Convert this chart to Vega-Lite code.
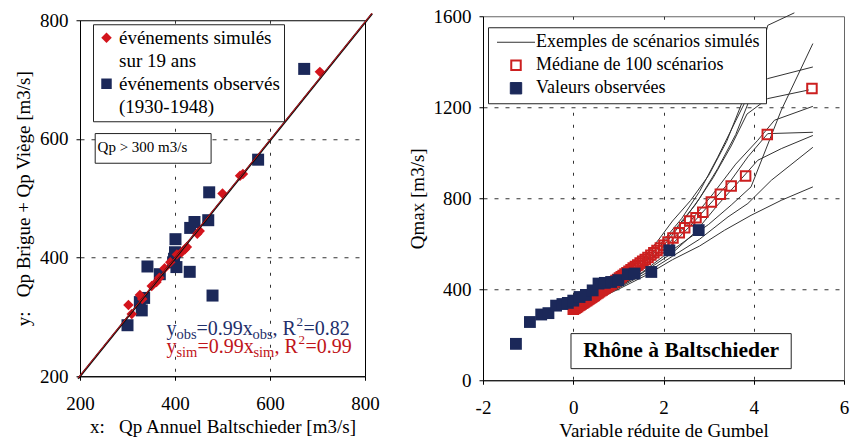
{
  "$schema": "https://vega.github.io/schema/vega-lite/v6.json",
  "background": "white",
  "padding": {"left": 14, "top": 6, "right": 0, "bottom": 0},
  "spacing": 27,
  "center": true,
  "datasets": {
    "leftpts": [
      {"type": "événements observés", "x": 300, "y": 286},
      {"type": "événements observés", "x": 326, "y": 325},
      {"type": "événements observés", "x": 330, "y": 311},
      {"type": "événements observés", "x": 335, "y": 332},
      {"type": "événements observés", "x": 342, "y": 385},
      {"type": "événements observés", "x": 368, "y": 372},
      {"type": "événements observés", "x": 396, "y": 392},
      {"type": "événements observés", "x": 398, "y": 398},
      {"type": "événements observés", "x": 400, "y": 409},
      {"type": "événements observés", "x": 401, "y": 431},
      {"type": "événements observés", "x": 403, "y": 384},
      {"type": "événements observés", "x": 431, "y": 376},
      {"type": "événements observés", "x": 432, "y": 450},
      {"type": "événements observés", "x": 441, "y": 460},
      {"type": "événements observés", "x": 470, "y": 463},
      {"type": "événements observés", "x": 472, "y": 510},
      {"type": "événements observés", "x": 479, "y": 336},
      {"type": "événements observés", "x": 575, "y": 565},
      {"type": "événements observés", "x": 672, "y": 718},
      {"type": "événements simulés", "x": 302, "y": 320},
      {"type": "événements simulés", "x": 309, "y": 305},
      {"type": "événements simulés", "x": 326, "y": 337},
      {"type": "événements simulés", "x": 331, "y": 330},
      {"type": "événements simulés", "x": 351, "y": 352},
      {"type": "événements simulés", "x": 361, "y": 359},
      {"type": "événements simulés", "x": 367, "y": 366},
      {"type": "événements simulés", "x": 378, "y": 382},
      {"type": "événements simulés", "x": 390, "y": 392},
      {"type": "événements simulés", "x": 404, "y": 405},
      {"type": "événements simulés", "x": 414, "y": 409},
      {"type": "événements simulés", "x": 421, "y": 414},
      {"type": "événements simulés", "x": 425, "y": 418},
      {"type": "événements simulés", "x": 447, "y": 440},
      {"type": "événements simulés", "x": 452, "y": 445},
      {"type": "événements simulés", "x": 500, "y": 508},
      {"type": "événements simulés", "x": 537, "y": 538},
      {"type": "événements simulés", "x": 543, "y": 541},
      {"type": "événements simulés", "x": 705, "y": 713}
    ],
    "leftlines": [
      {"s": "obs", "x": 196, "y": 196},
      {"s": "obs", "x": 815, "y": 811},
      {"s": "sim", "x": 196, "y": 197},
      {"s": "sim", "x": 815, "y": 812}
    ],
    "right": [
      {"series": "Valeurs observées", "x": -1.27, "y": 160},
      {"series": "Valeurs observées", "x": -0.96, "y": 256},
      {"series": "Valeurs observées", "x": -0.71, "y": 289},
      {"series": "Valeurs observées", "x": -0.55, "y": 295},
      {"series": "Valeurs observées", "x": -0.38, "y": 328},
      {"series": "Valeurs observées", "x": -0.24, "y": 335},
      {"series": "Valeurs observées", "x": -0.12, "y": 340},
      {"series": "Valeurs observées", "x": 0.0, "y": 350},
      {"series": "Valeurs observées", "x": 0.14, "y": 366},
      {"series": "Valeurs observées", "x": 0.28, "y": 375},
      {"series": "Valeurs observées", "x": 0.43, "y": 395},
      {"series": "Valeurs observées", "x": 0.56, "y": 425},
      {"series": "Valeurs observées", "x": 0.70, "y": 428},
      {"series": "Valeurs observées", "x": 0.84, "y": 432},
      {"series": "Valeurs observées", "x": 1.00, "y": 440},
      {"series": "Valeurs observées", "x": 1.21, "y": 466},
      {"series": "Valeurs observées", "x": 1.36, "y": 469},
      {"series": "Valeurs observées", "x": 1.73, "y": 476},
      {"series": "Valeurs observées", "x": 2.13, "y": 571},
      {"series": "Valeurs observées", "x": 2.78, "y": 660},
      {"series": "Médiane de 100 scénarios", "x": 0.000, "y": 312},
      {"series": "Médiane de 100 scénarios", "x": 0.024, "y": 315},
      {"series": "Médiane de 100 scénarios", "x": 0.048, "y": 318},
      {"series": "Médiane de 100 scénarios", "x": 0.072, "y": 321},
      {"series": "Médiane de 100 scénarios", "x": 0.097, "y": 324},
      {"series": "Médiane de 100 scénarios", "x": 0.122, "y": 328},
      {"series": "Médiane de 100 scénarios", "x": 0.147, "y": 331},
      {"series": "Médiane de 100 scénarios", "x": 0.172, "y": 334},
      {"series": "Médiane de 100 scénarios", "x": 0.198, "y": 338},
      {"series": "Médiane de 100 scénarios", "x": 0.224, "y": 341},
      {"series": "Médiane de 100 scénarios", "x": 0.250, "y": 344},
      {"series": "Médiane de 100 scénarios", "x": 0.276, "y": 348},
      {"series": "Médiane de 100 scénarios", "x": 0.302, "y": 351},
      {"series": "Médiane de 100 scénarios", "x": 0.329, "y": 355},
      {"series": "Médiane de 100 scénarios", "x": 0.356, "y": 358},
      {"series": "Médiane de 100 scénarios", "x": 0.383, "y": 362},
      {"series": "Médiane de 100 scénarios", "x": 0.410, "y": 365},
      {"series": "Médiane de 100 scénarios", "x": 0.438, "y": 369},
      {"series": "Médiane de 100 scénarios", "x": 0.466, "y": 373},
      {"series": "Médiane de 100 scénarios", "x": 0.494, "y": 377},
      {"series": "Médiane de 100 scénarios", "x": 0.523, "y": 381},
      {"series": "Médiane de 100 scénarios", "x": 0.552, "y": 385},
      {"series": "Médiane de 100 scénarios", "x": 0.582, "y": 389},
      {"series": "Médiane de 100 scénarios", "x": 0.612, "y": 393},
      {"series": "Médiane de 100 scénarios", "x": 0.643, "y": 397},
      {"series": "Médiane de 100 scénarios", "x": 0.674, "y": 401},
      {"series": "Médiane de 100 scénarios", "x": 0.706, "y": 405},
      {"series": "Médiane de 100 scénarios", "x": 0.738, "y": 410},
      {"series": "Médiane de 100 scénarios", "x": 0.771, "y": 414},
      {"series": "Médiane de 100 scénarios", "x": 0.805, "y": 419},
      {"series": "Médiane de 100 scénarios", "x": 0.839, "y": 423},
      {"series": "Médiane de 100 scénarios", "x": 0.874, "y": 428},
      {"series": "Médiane de 100 scénarios", "x": 0.910, "y": 433},
      {"series": "Médiane de 100 scénarios", "x": 0.947, "y": 438},
      {"series": "Médiane de 100 scénarios", "x": 0.985, "y": 443},
      {"series": "Médiane de 100 scénarios", "x": 1.024, "y": 449},
      {"series": "Médiane de 100 scénarios", "x": 1.064, "y": 455},
      {"series": "Médiane de 100 scénarios", "x": 1.105, "y": 461},
      {"series": "Médiane de 100 scénarios", "x": 1.147, "y": 467},
      {"series": "Médiane de 100 scénarios", "x": 1.190, "y": 473},
      {"series": "Médiane de 100 scénarios", "x": 1.235, "y": 479},
      {"series": "Médiane de 100 scénarios", "x": 1.281, "y": 486},
      {"series": "Médiane de 100 scénarios", "x": 1.329, "y": 493},
      {"series": "Médiane de 100 scénarios", "x": 1.378, "y": 500},
      {"series": "Médiane de 100 scénarios", "x": 1.430, "y": 507},
      {"series": "Médiane de 100 scénarios", "x": 1.483, "y": 515},
      {"series": "Médiane de 100 scénarios", "x": 1.538, "y": 523},
      {"series": "Médiane de 100 scénarios", "x": 1.596, "y": 531},
      {"series": "Médiane de 100 scénarios", "x": 1.656, "y": 540},
      {"series": "Médiane de 100 scénarios", "x": 1.720, "y": 550},
      {"series": "Médiane de 100 scénarios", "x": 1.786, "y": 560},
      {"series": "Médiane de 100 scénarios", "x": 1.856, "y": 570},
      {"series": "Médiane de 100 scénarios", "x": 1.930, "y": 581},
      {"series": "Médiane de 100 scénarios", "x": 2.010, "y": 593},
      {"series": "Médiane de 100 scénarios", "x": 2.100, "y": 608},
      {"series": "Médiane de 100 scénarios", "x": 2.21, "y": 625},
      {"series": "Médiane de 100 scénarios", "x": 2.35, "y": 648},
      {"series": "Médiane de 100 scénarios", "x": 2.47, "y": 670},
      {"series": "Médiane de 100 scénarios", "x": 2.58, "y": 700},
      {"series": "Médiane de 100 scénarios", "x": 2.72, "y": 714},
      {"series": "Médiane de 100 scénarios", "x": 2.87, "y": 738},
      {"series": "Médiane de 100 scénarios", "x": 3.06, "y": 783},
      {"series": "Médiane de 100 scénarios", "x": 3.26, "y": 818},
      {"series": "Médiane de 100 scénarios", "x": 3.50, "y": 854},
      {"series": "Médiane de 100 scénarios", "x": 3.82, "y": 898},
      {"series": "Médiane de 100 scénarios", "x": 4.30, "y": 1080},
      {"series": "Médiane de 100 scénarios", "x": 5.29, "y": 1282}
    ],
    "scen": [
      {"series": "Exemples de scénarios simulés", "s": 1, "x": 0.2, "y": 330},
      {"series": "Exemples de scénarios simulés", "s": 1, "x": 1.0, "y": 415},
      {"series": "Exemples de scénarios simulés", "s": 1, "x": 1.6, "y": 505},
      {"series": "Exemples de scénarios simulés", "s": 1, "x": 2.0, "y": 590},
      {"series": "Exemples de scénarios simulés", "s": 1, "x": 2.4, "y": 690},
      {"series": "Exemples de scénarios simulés", "s": 1, "x": 2.8, "y": 800},
      {"series": "Exemples de scénarios simulés", "s": 1, "x": 3.2, "y": 930},
      {"series": "Exemples de scénarios simulés", "s": 1, "x": 3.6, "y": 1080},
      {"series": "Exemples de scénarios simulés", "s": 1, "x": 3.9, "y": 1230},
      {"series": "Exemples de scénarios simulés", "s": 1, "x": 4.31, "y": 1560},
      {"series": "Exemples de scénarios simulés", "s": 1, "x": 4.9, "y": 1615},
      {"series": "Exemples de scénarios simulés", "s": 2, "x": 0.2, "y": 328},
      {"series": "Exemples de scénarios simulés", "s": 2, "x": 1.0, "y": 410},
      {"series": "Exemples de scénarios simulés", "s": 2, "x": 1.5, "y": 470},
      {"series": "Exemples de scénarios simulés", "s": 2, "x": 2.0, "y": 545},
      {"series": "Exemples de scénarios simulés", "s": 2, "x": 2.5, "y": 615},
      {"series": "Exemples de scénarios simulés", "s": 2, "x": 3.0, "y": 685},
      {"series": "Exemples de scénarios simulés", "s": 2, "x": 3.5, "y": 770},
      {"series": "Exemples de scénarios simulés", "s": 2, "x": 3.94, "y": 850},
      {"series": "Exemples de scénarios simulés", "s": 2, "x": 4.61, "y": 1187},
      {"series": "Exemples de scénarios simulés", "s": 2, "x": 5.31, "y": 1480},
      {"series": "Exemples de scénarios simulés", "s": 3, "x": 0.2, "y": 332},
      {"series": "Exemples de scénarios simulés", "s": 3, "x": 1.0, "y": 425},
      {"series": "Exemples de scénarios simulés", "s": 3, "x": 1.6, "y": 525},
      {"series": "Exemples de scénarios simulés", "s": 3, "x": 2.0, "y": 615},
      {"series": "Exemples de scénarios simulés", "s": 3, "x": 2.4, "y": 710},
      {"series": "Exemples de scénarios simulés", "s": 3, "x": 2.8, "y": 830},
      {"series": "Exemples de scénarios simulés", "s": 3, "x": 3.2, "y": 980},
      {"series": "Exemples de scénarios simulés", "s": 3, "x": 3.6, "y": 1140},
      {"series": "Exemples de scénarios simulés", "s": 3, "x": 3.85, "y": 1240},
      {"series": "Exemples de scénarios simulés", "s": 3, "x": 4.31, "y": 1326},
      {"series": "Exemples de scénarios simulés", "s": 3, "x": 5.31, "y": 1377},
      {"series": "Exemples de scénarios simulés", "s": 4, "x": 0.2, "y": 330},
      {"series": "Exemples de scénarios simulés", "s": 4, "x": 1.0, "y": 420},
      {"series": "Exemples de scénarios simulés", "s": 4, "x": 1.7, "y": 540},
      {"series": "Exemples de scénarios simulés", "s": 4, "x": 2.2, "y": 650},
      {"series": "Exemples de scénarios simulés", "s": 4, "x": 2.7, "y": 770},
      {"series": "Exemples de scénarios simulés", "s": 4, "x": 3.1, "y": 890},
      {"series": "Exemples de scénarios simulés", "s": 4, "x": 3.5, "y": 1030},
      {"series": "Exemples de scénarios simulés", "s": 4, "x": 3.85, "y": 1170},
      {"series": "Exemples de scénarios simulés", "s": 4, "x": 4.31, "y": 1238},
      {"series": "Exemples de scénarios simulés", "s": 4, "x": 5.22, "y": 1276},
      {"series": "Exemples de scénarios simulés", "s": 5, "x": 0.2, "y": 330},
      {"series": "Exemples de scénarios simulés", "s": 5, "x": 1.0, "y": 418},
      {"series": "Exemples de scénarios simulés", "s": 5, "x": 1.6, "y": 505},
      {"series": "Exemples de scénarios simulés", "s": 5, "x": 2.1, "y": 600},
      {"series": "Exemples de scénarios simulés", "s": 5, "x": 2.6, "y": 700},
      {"series": "Exemples de scénarios simulés", "s": 5, "x": 3.1, "y": 820},
      {"series": "Exemples de scénarios simulés", "s": 5, "x": 3.6, "y": 950},
      {"series": "Exemples de scénarios simulés", "s": 5, "x": 4.09, "y": 1055},
      {"series": "Exemples de scénarios simulés", "s": 5, "x": 4.46, "y": 1143},
      {"series": "Exemples de scénarios simulés", "s": 5, "x": 5.31, "y": 1204},
      {"series": "Exemples de scénarios simulés", "s": 6, "x": 0.2, "y": 328},
      {"series": "Exemples de scénarios simulés", "s": 6, "x": 1.0, "y": 412},
      {"series": "Exemples de scénarios simulés", "s": 6, "x": 1.6, "y": 495},
      {"series": "Exemples de scénarios simulés", "s": 6, "x": 2.1, "y": 580},
      {"series": "Exemples de scénarios simulés", "s": 6, "x": 2.6, "y": 680},
      {"series": "Exemples de scénarios simulés", "s": 6, "x": 3.1, "y": 790},
      {"series": "Exemples de scénarios simulés", "s": 6, "x": 3.5, "y": 880},
      {"series": "Exemples de scénarios simulés", "s": 6, "x": 3.87, "y": 982},
      {"series": "Exemples de scénarios simulés", "s": 6, "x": 4.31, "y": 1084},
      {"series": "Exemples de scénarios simulés", "s": 6, "x": 5.31, "y": 1090},
      {"series": "Exemples de scénarios simulés", "s": 7, "x": 0.2, "y": 326},
      {"series": "Exemples de scénarios simulés", "s": 7, "x": 1.0, "y": 408},
      {"series": "Exemples de scénarios simulés", "s": 7, "x": 1.6, "y": 480},
      {"series": "Exemples de scénarios simulés", "s": 7, "x": 2.2, "y": 560},
      {"series": "Exemples de scénarios simulés", "s": 7, "x": 2.7, "y": 650},
      {"series": "Exemples de scénarios simulés", "s": 7, "x": 3.2, "y": 770},
      {"series": "Exemples de scénarios simulés", "s": 7, "x": 3.7, "y": 880},
      {"series": "Exemples de scénarios simulés", "s": 7, "x": 4.09, "y": 967},
      {"series": "Exemples de scénarios simulés", "s": 7, "x": 4.61, "y": 1018},
      {"series": "Exemples de scénarios simulés", "s": 7, "x": 5.31, "y": 1076},
      {"series": "Exemples de scénarios simulés", "s": 8, "x": 0.2, "y": 326},
      {"series": "Exemples de scénarios simulés", "s": 8, "x": 1.0, "y": 405},
      {"series": "Exemples de scénarios simulés", "s": 8, "x": 1.6, "y": 470},
      {"series": "Exemples de scénarios simulés", "s": 8, "x": 2.2, "y": 545},
      {"series": "Exemples de scénarios simulés", "s": 8, "x": 2.8, "y": 620},
      {"series": "Exemples de scénarios simulés", "s": 8, "x": 3.43, "y": 718},
      {"series": "Exemples de scénarios simulés", "s": 8, "x": 3.87, "y": 777},
      {"series": "Exemples de scénarios simulés", "s": 8, "x": 4.39, "y": 879},
      {"series": "Exemples de scénarios simulés", "s": 8, "x": 5.31, "y": 1024},
      {"series": "Exemples de scénarios simulés", "s": 9, "x": 0.2, "y": 324},
      {"series": "Exemples de scénarios simulés", "s": 9, "x": 1.0, "y": 400},
      {"series": "Exemples de scénarios simulés", "s": 9, "x": 1.6, "y": 460},
      {"series": "Exemples de scénarios simulés", "s": 9, "x": 2.2, "y": 530},
      {"series": "Exemples de scénarios simulés", "s": 9, "x": 2.8, "y": 590},
      {"series": "Exemples de scénarios simulés", "s": 9, "x": 3.35, "y": 659},
      {"series": "Exemples de scénarios simulés", "s": 9, "x": 3.94, "y": 725},
      {"series": "Exemples de scénarios simulés", "s": 9, "x": 4.61, "y": 791},
      {"series": "Exemples de scénarios simulés", "s": 9, "x": 5.31, "y": 850},
      {"series": "Exemples de scénarios simulés", "s": 10, "x": 0.2, "y": 332},
      {"series": "Exemples de scénarios simulés", "s": 10, "x": 1.0, "y": 430},
      {"series": "Exemples de scénarios simulés", "s": 10, "x": 1.5, "y": 520},
      {"series": "Exemples de scénarios simulés", "s": 10, "x": 1.9, "y": 620},
      {"series": "Exemples de scénarios simulés", "s": 10, "x": 2.2, "y": 700},
      {"series": "Exemples de scénarios simulés", "s": 10, "x": 2.6, "y": 790},
      {"series": "Exemples de scénarios simulés", "s": 10, "x": 3.0, "y": 900},
      {"series": "Exemples de scénarios simulés", "s": 10, "x": 3.4, "y": 1050},
      {"series": "Exemples de scénarios simulés", "s": 10, "x": 3.7, "y": 1200},
      {"series": "Exemples de scénarios simulés", "s": 10, "x": 3.9, "y": 1300}
    ]
  },
  "config": {
    "font": "Liberation Serif",
    "axis": {
      "domainColor": "black",
      "domainWidth": 1,
      "tickColor": "black",
      "tickSize": 4,
      "labelFont": "Liberation Serif",
      "labelFontSize": 19,
      "labelColor": "black",
      "titleFont": "Liberation Serif",
      "titleFontSize": 19,
      "titleFontWeight": "normal",
      "titleColor": "black",
      "grid": true,
      "gridColor": "#333333",
      "gridWidth": 1
    },
    "axisX": {"labelPadding": 14, "titlePadding": 4, "gridDash": [3, 9], "labelFlush": false},
    "axisY": {"labelPadding": 8, "titlePadding": 6, "gridDash": [4, 7]},
    "legend": {
      "labelFont": "Liberation Serif",
      "labelColor": "black",
      "fillColor": "white",
      "strokeColor": "#222222",
      "labelLimit": 400,
      "title": null
    }
  },
  "resolve": {"scale": {"color": "independent", "shape": "independent"}, "legend": {"color": "independent", "shape": "independent"}},
  "hconcat": [
    {
      "width": 285,
      "height": 356,
      "view": {"stroke": "black", "strokeWidth": 1},
      "layer": [
        {
          "data": {"name": "leftpts"},
          "transform": [{"filter": "datum.type === 'événements observés'"}],
          "mark": {"type": "point", "shape": "square", "filled": true, "size": 144, "opacity": 1},
          "encoding": {
            "x": {"field": "x", "type": "quantitative", "scale": {"domain": [200, 800], "nice": false, "zero": false},
              "axis": {"values": [200, 400, 600, 800], "title": "x:\u00a0\u00a0\u00a0Qp Annuel Baltschieder [m3/s]",
                "gridOpacity": {"condition": {"test": "datum.value == 200 || datum.value == 800", "value": 0}, "value": 1}}},
            "y": {"field": "y", "type": "quantitative", "scale": {"domain": [200, 800], "nice": false, "zero": false},
              "axis": {"values": [200, 400, 600, 800], "title": "y:\u00a0\u00a0\u00a0Qp Brigue + Qp Viège [m3/s]",
                "gridOpacity": {"condition": {"test": "datum.value == 200 || datum.value == 800", "value": 0}, "value": 1}}},
            "color": {"field": "type", "type": "nominal",
              "scale": {"domain": ["événements simulés", "sur 19 ans", "événements observés", "(1930-1948)"], "range": ["#d3141c", "#ffffff", "#1b2859", "#ffffff"]},
              "legend": {
                "orient": "none", "legendX": 13, "legendY": 4,
                "labelFontSize": 19, "labelOffset": 3,
                "padding": 4, "rowPadding": 3, "symbolSize": 110,
                "encode": {"symbols": {"update": {
                  "opacity": {"signal": "datum.value === 'sur 19 ans' || datum.value === '(1930-1948)' ? 0 : 1"},
                  "strokeWidth": {"value": 0}}}}
              }},
            "shape": {"field": "type", "type": "nominal",
              "scale": {"domain": ["événements simulés", "sur 19 ans", "événements observés", "(1930-1948)"], "range": ["diamond", "square", "square", "square"]}}
          }
        },
        {
          "data": {"name": "leftpts"},
          "transform": [{"filter": "datum.type === 'événements simulés'"}],
          "mark": {"type": "point", "filled": true, "size": 110, "opacity": 1},
          "encoding": {
            "x": {"field": "x", "type": "quantitative"},
            "y": {"field": "y", "type": "quantitative"},
            "color": {"field": "type", "type": "nominal"},
            "shape": {"field": "type", "type": "nominal"}
          }
        },
        {
          "data": {"name": "leftlines"},
          "transform": [{"filter": "datum.s === 'obs'"}],
          "mark": {"type": "line", "color": "#111111", "strokeWidth": 2},
          "encoding": {"x": {"field": "x", "type": "quantitative"}, "y": {"field": "y", "type": "quantitative"}}
        },
        {
          "data": {"name": "leftlines"},
          "transform": [{"filter": "datum.s === 'sim'"}],
          "mark": {"type": "line", "color": "#d3141c", "strokeWidth": 1},
          "encoding": {"x": {"field": "x", "type": "quantitative"}, "y": {"field": "y", "type": "quantitative"}}
        },
        {
          "data": {"values": [{}]},
          "mark": {"type": "rect", "fill": "white", "stroke": "#222222", "strokeWidth": 1},
          "encoding": {"x": {"datum": 232}, "x2": {"datum": 476}, "y": {"datum": 609}, "y2": {"datum": 559}}
        },
        {
          "data": {"values": [{}]},
          "mark": {"type": "text", "text": "Qp > 300 m3/s", "font": "Liberation Serif", "fontSize": 15, "align": "left", "baseline": "alphabetic", "color": "black"},
          "encoding": {"x": {"datum": 237}, "y": {"datum": 578}}
        },
        {"data": {"values": [{}]}, "mark": {"type": "text", "text": "y", "font": "Liberation Serif", "fontSize": 20, "align": "left", "baseline": "alphabetic", "color": "#1f2f6b", "dx": 0}, "encoding": {"x": {"datum": 382}, "y": {"datum": 269}}},
        {"data": {"values": [{}]}, "mark": {"type": "text", "text": "obs", "font": "Liberation Serif", "fontSize": 14.5, "align": "left", "baseline": "alphabetic", "color": "#1f2f6b", "dx": 10, "dy": 4}, "encoding": {"x": {"datum": 382}, "y": {"datum": 269}}},
        {"data": {"values": [{}]}, "mark": {"type": "text", "text": "=0.99x", "font": "Liberation Serif", "fontSize": 20, "align": "left", "baseline": "alphabetic", "color": "#1f2f6b", "dx": 30}, "encoding": {"x": {"datum": 382}, "y": {"datum": 269}}},
        {"data": {"values": [{}]}, "mark": {"type": "text", "text": "obs", "font": "Liberation Serif", "fontSize": 14.5, "align": "left", "baseline": "alphabetic", "color": "#1f2f6b", "dx": 86, "dy": 4}, "encoding": {"x": {"datum": 382}, "y": {"datum": 269}}},
        {"data": {"values": [{}]}, "mark": {"type": "text", "text": ", R", "font": "Liberation Serif", "fontSize": 20, "align": "left", "baseline": "alphabetic", "color": "#1f2f6b", "dx": 106}, "encoding": {"x": {"datum": 382}, "y": {"datum": 269}}},
        {"data": {"values": [{}]}, "mark": {"type": "text", "text": "2", "font": "Liberation Serif", "fontSize": 13, "align": "left", "baseline": "alphabetic", "color": "#1f2f6b", "dx": 130, "dy": -9}, "encoding": {"x": {"datum": 382}, "y": {"datum": 269}}},
        {"data": {"values": [{}]}, "mark": {"type": "text", "text": "=0.82", "font": "Liberation Serif", "fontSize": 20, "align": "left", "baseline": "alphabetic", "color": "#1f2f6b", "dx": 137}, "encoding": {"x": {"datum": 382}, "y": {"datum": 269}}},
        {"data": {"values": [{}]}, "mark": {"type": "text", "text": "y", "font": "Liberation Serif", "fontSize": 20, "align": "left", "baseline": "alphabetic", "color": "#c0141a", "dx": 0}, "encoding": {"x": {"datum": 382}, "y": {"datum": 239}}},
        {"data": {"values": [{}]}, "mark": {"type": "text", "text": "sim", "font": "Liberation Serif", "fontSize": 14.5, "align": "left", "baseline": "alphabetic", "color": "#c0141a", "dx": 10, "dy": 4}, "encoding": {"x": {"datum": 382}, "y": {"datum": 239}}},
        {"data": {"values": [{}]}, "mark": {"type": "text", "text": "=0.99x", "font": "Liberation Serif", "fontSize": 20, "align": "left", "baseline": "alphabetic", "color": "#c0141a", "dx": 31}, "encoding": {"x": {"datum": 382}, "y": {"datum": 239}}},
        {"data": {"values": [{}]}, "mark": {"type": "text", "text": "sim", "font": "Liberation Serif", "fontSize": 14.5, "align": "left", "baseline": "alphabetic", "color": "#c0141a", "dx": 87, "dy": 4}, "encoding": {"x": {"datum": 382}, "y": {"datum": 239}}},
        {"data": {"values": [{}]}, "mark": {"type": "text", "text": ", R", "font": "Liberation Serif", "fontSize": 20, "align": "left", "baseline": "alphabetic", "color": "#c0141a", "dx": 108}, "encoding": {"x": {"datum": 382}, "y": {"datum": 239}}},
        {"data": {"values": [{}]}, "mark": {"type": "text", "text": "2", "font": "Liberation Serif", "fontSize": 13, "align": "left", "baseline": "alphabetic", "color": "#c0141a", "dx": 132, "dy": -9}, "encoding": {"x": {"datum": 382}, "y": {"datum": 239}}},
        {"data": {"values": [{}]}, "mark": {"type": "text", "text": "=0.99", "font": "Liberation Serif", "fontSize": 20, "align": "left", "baseline": "alphabetic", "color": "#c0141a", "dx": 139}, "encoding": {"x": {"datum": 382}, "y": {"datum": 239}}}
      ]
    },
    {
      "width": 361,
      "height": 364,
      "view": {"stroke": "#666666", "strokeWidth": 1},
      "layer": [
        {
          "data": {"name": "scen"},
          "mark": {"type": "line", "strokeWidth": 1},
          "encoding": {
            "x": {"field": "x", "type": "quantitative", "scale": {"domain": [-2, 6], "nice": false, "zero": false},
              "axis": {"values": [-2, 0, 2, 4, 6], "labelExpr": "datum.value", "title": "Variable réduite de Gumbel",
                "gridOpacity": {"condition": {"test": "datum.value == -2 || datum.value == 6", "value": 0}, "value": 1}}},
            "y": {"field": "y", "type": "quantitative", "scale": {"domain": [0, 1600], "nice": false, "zero": false},
              "axis": {"values": [0, 400, 800, 1200, 1600], "format": "d", "title": "Qmax [m3/s]",
                "gridOpacity": {"condition": {"test": "datum.value == 0 || datum.value == 1600", "value": 0}, "value": 1}}},
            "detail": {"field": "s", "type": "nominal"},
            "color": {"field": "series", "type": "nominal",
              "scale": {"domain": ["Exemples de scénarios simulés", "Médiane de 100 scénarios", "Valeurs observées"], "range": ["#333333", "#cc1f1f", "#1b2859"]},
              "legend": {
                "orient": "none", "legendX": 5, "legendY": 11,
                "labelFontSize": 18, "labelOffset": 11, "symbolOffset": 13, "padding": 6, "rowPadding": 5,
                "encode": {"symbols": {"update": {
                  "shape": {"signal": "datum.value === 'Exemples de scénarios simulés' ? 'stroke' : 'square'"},
                  "size": {"signal": "datum.value === 'Exemples de scénarios simulés' ? 1444 : (datum.value === 'Valeurs observées' ? 130 : 90)"},
                  "fill": {"signal": "datum.value === 'Valeurs observées' ? '#1b2859' : 'white'"},
                  "fillOpacity": {"signal": "datum.value === 'Valeurs observées' ? 1 : 0"},
                  "stroke": {"signal": "datum.value === 'Exemples de scénarios simulés' ? '#333333' : (datum.value === 'Valeurs observées' ? '#1b2859' : '#cc1f1f')"},
                  "strokeWidth": {"signal": "datum.value === 'Médiane de 100 scénarios' ? 2 : 1"},
                  "opacity": {"value": 1}
                }}}
              }}
          }
        },
        {
          "data": {"name": "right"},
          "transform": [{"filter": "datum.series === 'Médiane de 100 scénarios'"}],
          "mark": {"type": "point", "shape": "square", "filled": false, "size": 90, "strokeWidth": 2, "opacity": 1},
          "encoding": {
            "x": {"field": "x", "type": "quantitative"},
            "y": {"field": "y", "type": "quantitative"},
            "color": {"field": "series", "type": "nominal"}
          }
        },
        {
          "data": {"name": "right"},
          "transform": [{"filter": "datum.series === 'Valeurs observées'"}],
          "mark": {"type": "point", "shape": "square", "filled": true, "size": 140, "opacity": 1},
          "encoding": {
            "x": {"field": "x", "type": "quantitative"},
            "y": {"field": "y", "type": "quantitative"},
            "color": {"field": "series", "type": "nominal"}
          }
        },
        {
          "data": {"values": [{}]},
          "mark": {"type": "rect", "fill": "white", "stroke": "#222222", "strokeWidth": 1},
          "encoding": {"x": {"datum": -0.05}, "x2": {"datum": 4.83}, "y": {"datum": 205}, "y2": {"datum": 51}}
        },
        {
          "data": {"values": [{}]},
          "mark": {"type": "text", "text": "Rhône à Baltschieder", "font": "Liberation Serif", "fontSize": 21.5, "fontWeight": "bold", "align": "center", "baseline": "middle", "color": "black"},
          "encoding": {"x": {"datum": 2.39}, "y": {"datum": 127}}
        }
      ]
    }
  ]
}
